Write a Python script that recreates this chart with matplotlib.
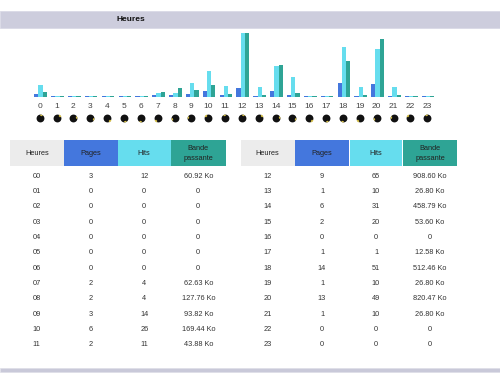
import numpy as np
import matplotlib
matplotlib.use("Agg")
import matplotlib.pyplot as plt
from matplotlib.patches import Rectangle
from matplotlib.path import Path

# ------------------------------------------------------------
# DATA (hourly traffic)
# ------------------------------------------------------------
hours = list(range(24))
pages = [3, 0, 0, 0, 0, 0, 0, 2, 2, 3, 6, 2,
         9, 1, 6, 2, 0, 1, 14, 1, 13, 1, 0, 0]
hits = [12, 0, 0, 0, 0, 0, 0, 4, 4, 14, 26, 11,
        65, 10, 31, 20, 0, 1, 51, 10, 49, 10, 0, 0]
bandwidth_ko = [60.92, 0, 0, 0, 0, 0, 0, 62.63, 127.76, 93.82, 169.44, 43.88,
                908.60, 26.80, 458.79, 53.60, 0, 12.58, 512.46, 26.80, 820.47, 26.80, 0, 0]

col_headers = ["Heures", "Pages", "Hits", "Bande\npassante"]

C_PAGES = "#4477DD"
C_HITS = "#66DDEE"
C_BW = "#2EA495"
C_HEAD = "#ECECEC"
C_BAND = "#CDCDDD"

FONT = "Liberation Sans"
plt.rcParams["font.family"] = [FONT, "DejaVu Sans"]

W, H = 500, 382
fig = plt.figure(figsize=(W / 100, H / 100), dpi=100)
fig.patch.set_facecolor("white")

# background axes in pixel coordinates
bg = fig.add_axes([0, 0, 1, 1])
bg.set_xlim(0, W)
bg.set_ylim(H, 0)
bg.axis("off")

# title band
bg.add_patch(Rectangle((0, 11), W, 17, facecolor=C_BAND, edgecolor="#DADAE6", lw=0.6))
bg.text(131, 19.5, "Heures", ha="center", va="center", fontsize=6, fontweight="bold", color="#111111")

# bottom band
bg.add_patch(Rectangle((0, 368), W, 3.5, facecolor="#C9C9D9", edgecolor="#DEDEE8", lw=0.5))

# ------------------------------------------------------------
# BAR CHART
# ------------------------------------------------------------
spacing = 16.85
x0 = 40.6
base_y, top_y = 96.7, 33.0
left_px = x0 - 0.5 * spacing
ax = fig.add_axes([left_px / W, (H - base_y) / H, 24 * spacing / W, (base_y - top_y) / H])
ax.set_xlim(-0.5, 23.5)
ax.set_ylim(0, 1)
ax.axis("off")

max_hits = max(hits)
max_bw = max(bandwidth_ko)
min_h = 0.016
x = np.array(hours)
bw = 0.25
p_norm = np.maximum(np.array(pages) / max_hits, min_h)
h_norm = np.maximum(np.array(hits) / max_hits, min_h)
k_norm = np.maximum(np.array(bandwidth_ko) / max_bw, min_h)
ax.bar(x - bw, p_norm, width=bw, color=C_PAGES, linewidth=0)
ax.bar(x, h_norm, width=bw, color=C_HITS, linewidth=0)
ax.bar(x + bw, k_norm, width=bw, color=C_BW, linewidth=0)

# hour labels and clock icons
for h in hours:
    px = x0 + h * spacing - 0.9
    bg.text(px, 106, str(h), ha="center", va="center", fontsize=6, color="#444444")

clock_x = [x0 + h * spacing - 0.9 for h in hours]
bg.scatter(clock_x, [118] * 24, s=32, marker="o", color="#111111", linewidths=0, zorder=3)
for h, cx in zip(hours, clock_x):
    ang = 90 - (h % 12) * 30
    wedge = Path.wedge(ang - 35, ang + 5)
    bg.scatter([cx], [118], s=32, marker=wedge, color="#D8C24A", linewidths=0, zorder=4)
    bg.scatter([cx], [118], s=14, marker="o", color="#111111", linewidths=0, zorder=5)

# ------------------------------------------------------------
# TABLES
# ------------------------------------------------------------
head_colors = [C_HEAD, C_PAGES, C_HITS, C_BW]
tables = [
    {"hours": hours[:12], "edges": [(10, 63.5), (64, 117.5), (118, 170.5), (171, 225.5)]},
    {"hours": hours[12:], "edges": [(241, 294.5), (295, 349), (350, 402), (403, 457)]},
]

row_y0 = 176
row_step = 15.35


def fmt_bw(v):
    return f"{v:.2f} Ko" if v > 0 else "0"


for tbl in tables:
    edges = tbl["edges"]
    for (a, b), col, label in zip(edges, head_colors, col_headers):
        bg.add_patch(Rectangle((a, 140), b - a, 26, facecolor=col, edgecolor="none"))
        bg.text((a + b) / 2, 153.5, label, ha="center", va="center", fontsize=5.3,
                color="#222222", linespacing=1.75)
    centers = [(a + b) / 2 for a, b in edges]
    for i, h in enumerate(tbl["hours"]):
        y = row_y0 + i * row_step
        vals = [f"{h:02d}", str(pages[h]), str(hits[h]), fmt_bw(bandwidth_ko[h])]
        for cx, v in zip(centers, vals):
            bg.text(cx, y, v, ha="center", va="center", fontsize=5.3, color="#333333")

fig.savefig("out.png", dpi=100, facecolor="white")
